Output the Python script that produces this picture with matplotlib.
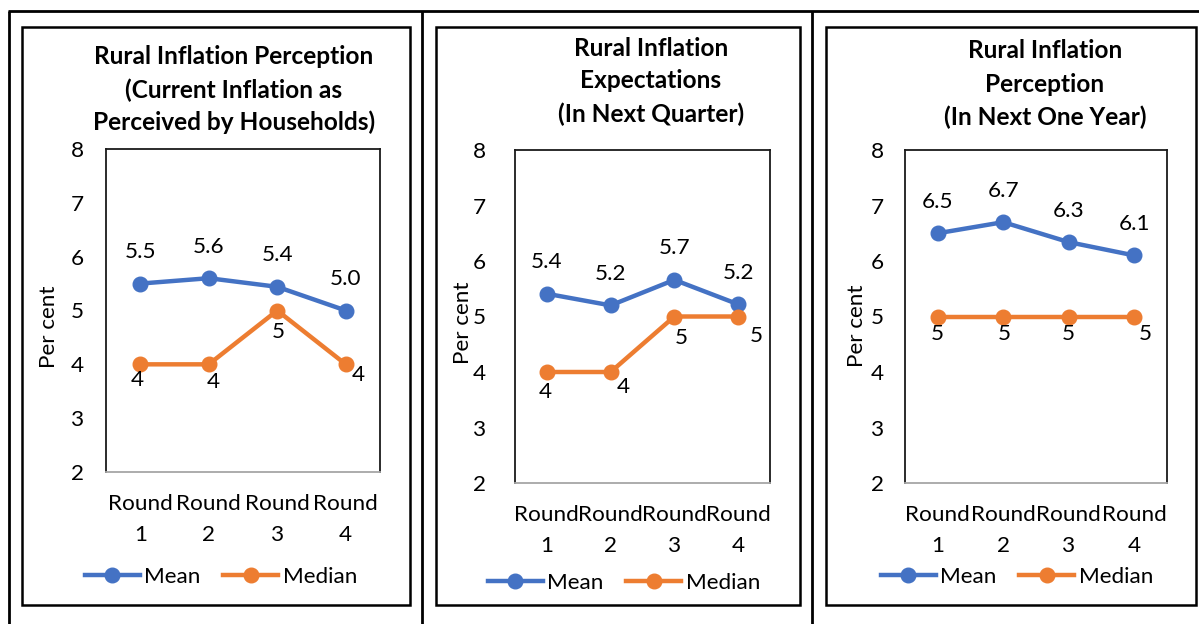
import matplotlib
matplotlib.use("Agg")
import matplotlib.pyplot as plt
from matplotlib.lines import Line2D
from matplotlib.patches import Rectangle

# ---- data -------------------------------------------------------------
round_labels = ["Round\n1", "Round\n2", "Round\n3", "Round\n4"]

current_mean = [5.5, 5.6, 5.44, 5.0]
current_median = [4, 4, 5, 4]

quarter_mean = [5.41, 5.2, 5.66, 5.22]
quarter_median = [4, 4, 5, 5]

year_mean = [6.5, 6.7, 6.34, 6.1]
year_median = [5, 5, 5, 5]

titles = [
    ["Rural Inflation Perception", "(Current Inflation as", "Perceived by Households)"],
    ["Rural Inflation", "Expectations", "(In Next Quarter)"],
    ["Rural Inflation", "Perception", "(In Next One Year)"],
]

# ---- layout (pixel coordinates, origin top-left) -----------------------
W, H = 1199, 624
FONT = "Lato"
FS = 16.2
TFS = 17.6
BLUE = "#4472C4"
ORANGE = "#ED7D31"

plt.rcParams["font.family"] = [FONT, "DejaVu Sans"]

fig = plt.figure(figsize=(W / 100, H / 100), dpi=100)


def fx(x):
    return x / W


def fy(y):
    return 1 - y / H


def line_px(x0, y0, x1, y1, lw=2.0, color="black"):
    fig.add_artist(Line2D([fx(x0), fx(x1)], [fy(y0), fy(y1)],
                          transform=fig.transFigure, lw=lw, color=color,
                          solid_capstyle="butt"))


# table grid lines
line_px(8, 11, W, 11)
line_px(8.5, 11, 8.5, H)
line_px(422, 11, 422, H)
line_px(812, 11, 812, H)

panels = [
    dict(box=(22, 27, 410, 605), plot=(106, 149, 380, 472),
         mean=current_mean, median=current_median, title=titles[0],
         title_x=234, title_y=[57, 90, 122], ylab=(49, 327), ypad=16,
         leg=(221, 577),
         med_off=[(-3, 16), (5, 18), (1, 22), (13, 11)]),
    dict(box=(436, 27, 800, 605), plot=(515, 150, 770, 483),
         mean=quarter_mean, median=quarter_median, title=titles[1],
         title_x=651, title_y=[48, 81, 114], ylab=(463, 323), ypad=21,
         leg=(624, 583),
         med_off=[(-2, 20), (13, 15), (7, 21), (18, 19)]),
    dict(box=(826, 27, 1196, 605), plot=(905, 150, 1167, 483),
         mean=year_mean, median=year_median, title=titles[2],
         title_x=1045, title_y=[51, 84, 117], ylab=(857, 326), ypad=15,
         leg=(1017, 577),
         med_off=[(0, 17), (1, 17), (0, 17), (11, 18)]),
]

for p in panels:
    bl, bt, br, bb = p["box"]
    fig.add_artist(Rectangle((fx(bl), fy(bb)), (br - bl) / W, (bb - bt) / H,
                             transform=fig.transFigure, fill=False,
                             lw=1.8, edgecolor="black"))

    l, t, r, b = p["plot"]
    ax = fig.add_axes([fx(l), fy(b), (r - l) / W, (b - t) / H])
    x = list(range(len(round_labels)))

    mean_line, = ax.plot(x, p["mean"], color=BLUE, lw=3.2, marker="o",
                         markersize=10.5, label="Mean", zorder=3)
    median_line, = ax.plot(x, p["median"], color=ORANGE, lw=3.2, marker="o",
                           markersize=10.5, label="Median", zorder=3)

    ax.set_xlim(-0.5, 3.5)
    ax.set_ylim(2, 8)
    ax.set_yticks(range(2, 9))
    ax.set_xticks(x)
    ax.set_xticklabels(round_labels, fontsize=FS, linespacing=1.7)
    ax.tick_params(axis="both", length=0, labelsize=FS)
    ax.tick_params(axis="x", pad=16)
    ax.tick_params(axis="y", pad=p["ypad"])

    for side in ("left", "top", "right"):
        ax.spines[side].set_color("#1a1a1a")
        ax.spines[side].set_linewidth(1.3)
    ax.spines["bottom"].set_color("#A6A6A6")
    ax.spines["bottom"].set_linewidth(1.3)

    for xi, v in zip(x, p["mean"]):
        ax.annotate(f"{v:.1f}", (xi, v), xytext=(0, 31.5),
                    textcoords="offset pixels", ha="center", va="center",
                    fontsize=FS)
    for xi, v, (dx, dy) in zip(x, p["median"], p["med_off"]):
        ax.annotate(f"{v:.0f}", (xi, v), xytext=(dx, -dy),
                    textcoords="offset pixels", ha="center", va="center",
                    fontsize=FS)

    for line, ty in zip(p["title"], p["title_y"]):
        fig.text(fx(p["title_x"]), fy(ty), line, ha="center", va="center",
                 fontsize=TFS, fontweight="bold")

    fig.text(fx(p["ylab"][0]), fy(p["ylab"][1]), "Per cent", rotation=90,
             ha="center", va="center", fontsize=FS)

    lx, ly = p["leg"]
    fig.legend(handles=[mean_line, median_line], loc="center",
               bbox_to_anchor=(fx(lx), fy(ly)), ncol=2, frameon=False,
               fontsize=FS, handlelength=2.45, handletextpad=0.2,
               columnspacing=1.0, borderpad=0, borderaxespad=0)

fig.savefig("out.png", dpi=100)
